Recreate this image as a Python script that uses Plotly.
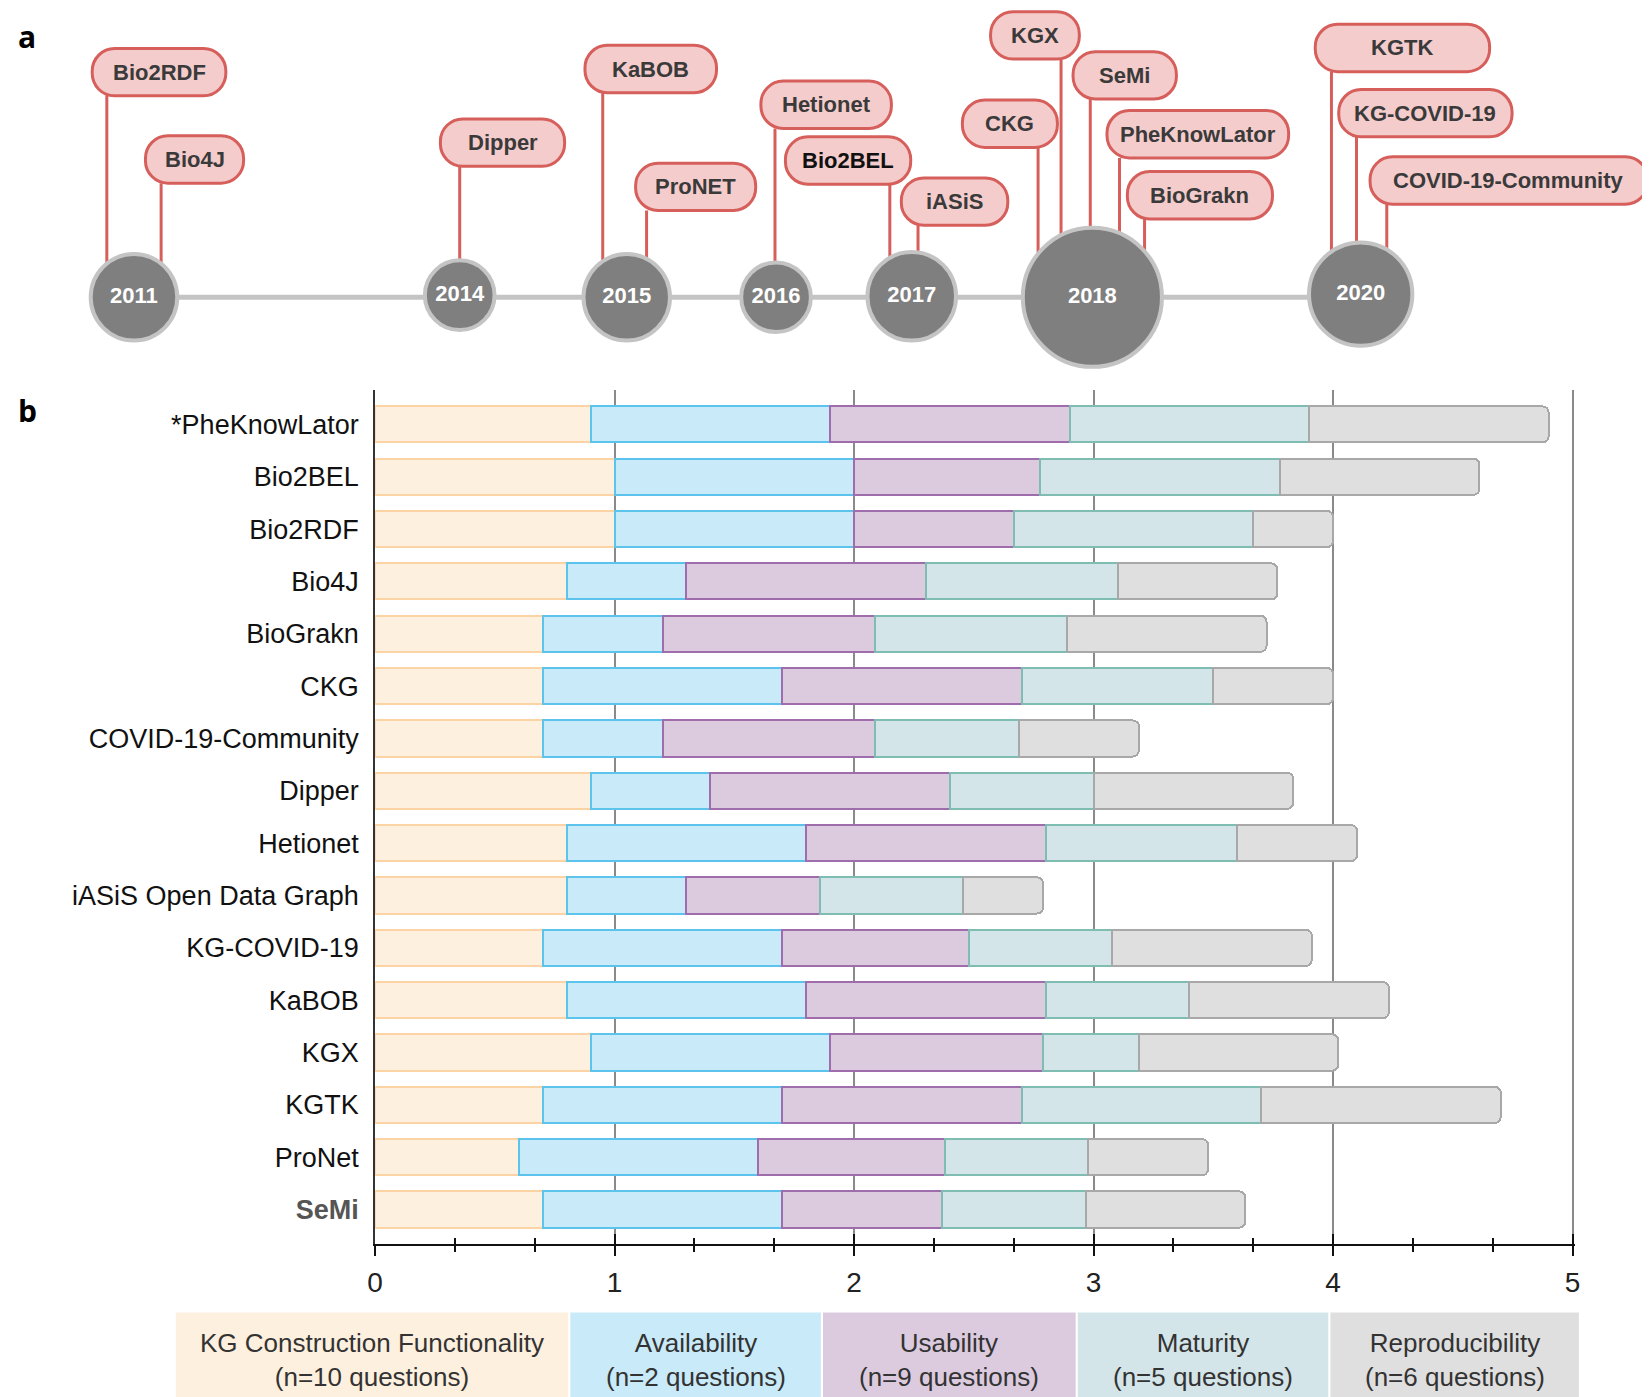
import plotly.graph_objects as go

# ---------------- data ----------------
kgs = ["*PheKnowLator", "Bio2BEL", "Bio2RDF", "Bio4J", "BioGrakn", "CKG",
       "COVID-19-Community", "Dipper", "Hetionet", "iASiS Open Data Graph",
       "KG-COVID-19", "KaBOB", "KGX", "KGTK", "ProNet", "SeMi"]

functionality = [0.9, 1.0, 1.0, 0.8, 0.7, 0.7, 0.7, 0.9, 0.8, 0.8, 0.7, 0.8, 0.9, 0.7, 0.6, 0.7]
availability = [1.0, 1.0, 1.0, 0.5, 0.5, 1.0, 0.5, 0.5, 1.0, 0.5, 1.0, 1.0, 1.0, 1.0, 1.0, 1.0]
usability = [1.0, 0.778, 0.667, 1.0, 0.889, 1.0, 0.889, 1.0, 1.0, 0.556, 0.778, 1.0, 0.889, 1.0, 0.778, 0.667]
maturity = [1.0, 1.0, 1.0, 0.8, 0.8, 0.8, 0.6, 0.6, 0.8, 0.6, 0.6, 0.6, 0.4, 1.0, 0.6, 0.6]
reproducibility = [1.0, 0.833, 0.333, 0.667, 0.833, 0.5, 0.5, 0.833, 0.5, 0.333, 0.833, 0.833, 0.833, 1.0, 0.5, 0.667]

dimension_names = ["KG Construction Functionality", "Availability", "Usability",
                   "Maturity", "Reproducibility"]
dimension_notes = ["(n=10 questions)", "(n=2 questions)", "(n=9 questions)",
                   "(n=5 questions)", "(n=6 questions)"]
x_tick_values = [0, 1, 2, 3, 4, 5]

years = ["2011", "2014", "2015", "2016", "2017", "2018", "2020"]
timeline_kgs = ["Bio2RDF", "Bio4J", "Dipper", "KaBOB", "ProNET", "Hetionet", "Bio2BEL",
                "iASiS", "CKG", "KGX", "SeMi", "PheKnowLator", "BioGrakn", "KGTK",
                "KG-COVID-19", "COVID-19-Community"]
timeline_kg_years = ["2011", "2011", "2014", "2015", "2015", "2016", "2017",
                     "2017", "2018", "2018", "2018", "2018", "2018", "2020",
                     "2020", "2020"]

# ---------------- layout / style (reference pixel units 1568 x 1328) ----------------
W_REF, H_REF = 1568.0, 1328.0
K = 1650.0 / W_REF
FONT = "Liberation Sans, Arial, sans-serif"
NARROW = "Liberation Sans Narrow, Arial Narrow, Liberation Sans, Arial, sans-serif"

def px(x):
    return x / W_REF

def py(y):
    return 1 - y / H_REF

fills = ["#fef0df", "#c9eaf8", "#dccbdf", "#d4e5e9", "#dfdfdf"]
edges = ["#fbd3a5", "#5cc4ec", "#9f6dab", "#7fbcb2", "#a8a8a8"]

year_x = [113, 425, 585, 728, 858, 1031, 1288]
year_y = [275, 273, 275, 275, 274, 275, 272]
year_diam = [86, 70, 86, 70, 88, 136, 102]

# pill label geometry: centre x, centre y, width, stem x
pill_geom = [
    (137, 61, 128, 87), (171, 144, 94, 139), (466, 128, 119, 425),
    (608, 58, 126, 562), (651, 170, 115, 604), (776, 92, 125, 727),
    (797, 145, 120, 837), (899, 184, 102, 864), (952, 110, 91, 979),
    (976, 26, 85, 1001), (1062, 64, 99, 1029), (1132, 120, 174, 1057),
    (1134, 178, 139, 1081), (1328, 38, 167, 1260), (1350, 100, 166, 1284),
    (1430, 164, 266, 1313),
]
PILL_H = 45

legend_boxes = [(153, 529), (531, 771), (773, 1015), (1017, 1257), (1259, 1497)]

X_MAX = 5.01
x_left, x_right5 = px(344), px(1491)
x_dom_right = x_left + (x_right5 - x_left) * X_MAX / 5.0

fig = go.Figure()

series = [functionality, availability, usability, maturity, reproducibility]
for name, vals, fc, ec in zip(dimension_names, series, fills, edges):
    fig.add_trace(go.Bar(
        y=kgs, x=vals, orientation="h", name=name,
        marker=dict(color=fc, line=dict(color=ec, width=2)),
        width=0.69, showlegend=False, xaxis="x", yaxis="y",
    ))

# invisible helper trace for the crossing-tick overlay axis
fig.add_trace(go.Scatter(x=[None], y=[kgs[0]], xaxis="x3", yaxis="y",
                         mode="markers", showlegend=False, hoverinfo="skip"))

# ---------------- timeline (panel a) ----------------
shapes = []
shapes.append(dict(type="line", xref="x2", yref="y2",
                   x0=year_x[0], x1=year_x[-1], y0=275, y1=275,
                   line=dict(color="#c4c4c4", width=5), layer="below"))

annotations = []
year_lookup = dict(zip(years, range(len(years))))
for kg, yr, (cx, cy, w, sx) in zip(timeline_kgs, timeline_kg_years, pill_geom):
    yi = year_lookup[yr]
    # stem
    shapes.append(dict(type="line", xref="x2", yref="y2",
                       x0=sx, x1=sx, y0=cy + PILL_H / 2, y1=year_y[yi],
                       line=dict(color="#d65f5c", width=3), layer="below"))
    x0, x1 = cx - w / 2, cx + w / 2
    y0, y1 = cy - PILL_H / 2, cy + PILL_H / 2
    r = PILL_H / 2 * 0.95
    k = 0.5523 * r
    path = (f"M {x0 + r},{y0} L {x1 - r},{y0} "
            f"C {x1 - r + k},{y0} {x1},{y0 + r - k} {x1},{y0 + r} "
            f"L {x1},{y1 - r} "
            f"C {x1},{y1 - r + k} {x1 - r + k},{y1} {x1 - r},{y1} "
            f"L {x0 + r},{y1} "
            f"C {x0 + r - k},{y1} {x0},{y1 - r + k} {x0},{y1 - r} "
            f"L {x0},{y0 + r} "
            f"C {x0},{y0 + r - k} {x0 + r - k},{y0} {x0 + r},{y0} Z")
    shapes.append(dict(type="path", xref="x2", yref="y2", path=path,
                       fillcolor="#f4cccc", line=dict(color="#d65f5c", width=3),
                       layer="above"))
    annotations.append(dict(xref="x2", yref="y2", x=cx, y=cy, text=f"<b>{kg}</b>",
                            showarrow=False, xanchor="center", yanchor="middle",
                            font=dict(family=FONT, size=22,
                                      color="#111" if kg == "Bio2BEL" else "#3a3a3a")))

fig.add_trace(go.Scatter(
    x=year_x, y=year_y, mode="markers+text", text=[f"<b>{y}</b>" for y in years],
    textposition="middle center",
    textfont=dict(family=FONT, size=22, color="white"),
    marker=dict(size=[d * K - 4 for d in year_diam], color="#7f7f7f",
                line=dict(color="#c4c4c4", width=4), opacity=1),
    xaxis="x2", yaxis="y2", showlegend=False, cliponaxis=False, hoverinfo="skip",
))

# ---------------- legend boxes ----------------
for (lx0, lx1), fc, nm, note in zip(legend_boxes, fills, dimension_names, dimension_notes):
    shapes.append(dict(type="rect", xref="paper", yref="paper",
                       x0=px(lx0), x1=px(lx1), y0=py(1325), y1=py(1240),
                       fillcolor=fc, line=dict(width=0), layer="below"))
    annotations.append(dict(xref="paper", yref="paper", x=px((lx0 + lx1) / 2), y=py(1285),
                            text=f"{nm}<br>{note}", showarrow=False,
                            xanchor="center", yanchor="middle",
                            font=dict(family=NARROW, size=26, color="#333")))

# panel letters
annotations.append(dict(xref="paper", yref="paper", x=px(0), y=py(27), text="<b>a</b>",
                        showarrow=False, xanchor="left", yanchor="middle",
                        font=dict(family="Open Sans, Liberation Sans", size=30, color="black")))
annotations.append(dict(xref="paper", yref="paper", x=px(0), y=py(383), text="<b>b</b>",
                        showarrow=False, xanchor="left", yanchor="middle",
                        font=dict(family="Open Sans, Liberation Sans", size=30, color="black")))

tick_text = [f"<b><span style='color:#555555'>{c}</span></b>" if c == "SeMi" else c for c in kgs]

fig.update_layout(
    width=1650, height=1397,
    margin=dict(l=0, r=0, t=0, b=0),
    paper_bgcolor="white", plot_bgcolor="rgba(0,0,0,0)",
    barmode="stack", barcornerradius=6, bargap=0.3,
    shapes=shapes, annotations=annotations,
    xaxis=dict(domain=[x_left, x_dom_right], range=[0, X_MAX], anchor="y",
               tickvals=x_tick_values, showgrid=True, gridcolor="#8a8a8a", gridwidth=1.5,
               ticks="outside", ticklen=10, tickwidth=2, tickcolor="#111",
               showline=True, linecolor="#111", linewidth=2, zeroline=False,
               tickfont=dict(family=NARROW, size=28, color="#222"),
               ticklabelstandoff=2,
               minor=dict(dtick=1 / 3, tick0=0, ticks="outside", ticklen=6,
                          tickwidth=1.5, tickcolor="#111", showgrid=False)),
    xaxis3=dict(overlaying="x", anchor="y", side="bottom", range=[0, X_MAX],
                tickvals=x_tick_values, ticks="inside", ticklen=10, tickwidth=2,
                tickcolor="#111", showticklabels=False, showgrid=False,
                showline=False, zeroline=False,
                minor=dict(dtick=1 / 3, tick0=0, ticks="inside", ticklen=6,
                           tickwidth=1.5, tickcolor="#111", showgrid=False)),
    yaxis=dict(domain=[py(1175), py(363)], anchor="x",
               categoryorder="array", categoryarray=kgs,
               range=[15.66, -0.66], tickvals=kgs, ticktext=tick_text,
               showgrid=False, showline=True, linecolor="#333", linewidth=2,
               ticks="", ticklabelstandoff=9, zeroline=False,
               tickfont=dict(family=FONT, size=27, color="#111")),
    xaxis2=dict(domain=[0, 1], range=[0, W_REF], anchor="y2", visible=False),
    yaxis2=dict(domain=[py(355), 1], range=[355, 0], anchor="x2", visible=False),
)

fig.write_html("out.html")
